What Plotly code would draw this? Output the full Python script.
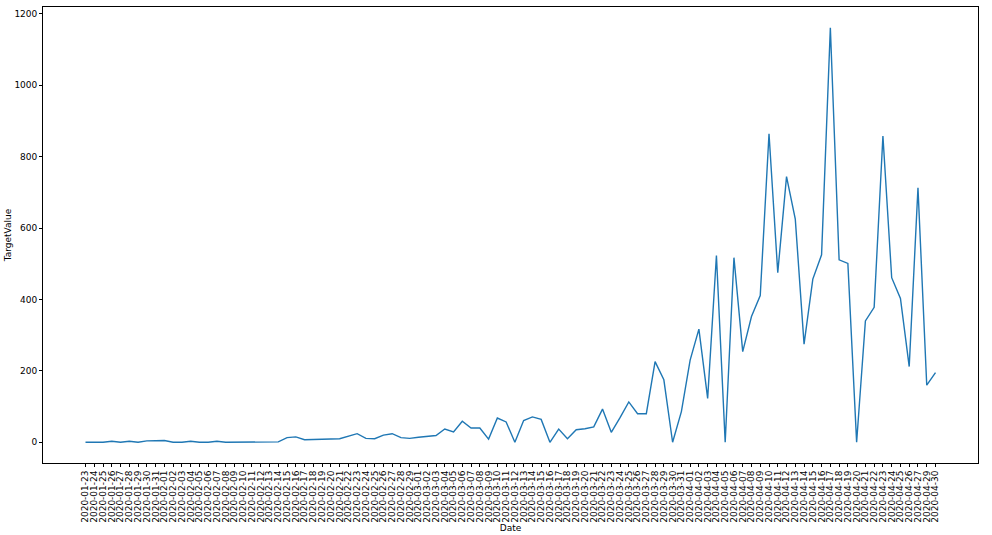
import datetime as dt
import plotly.graph_objects as go

# Dates (categorical, 2020-04-28 absent in the source data)
start = dt.date(2020, 1, 23)
end = dt.date(2020, 4, 30)
dates = []
d = start
while d <= end:
    if d != dt.date(2020, 4, 28):
        dates.append(d.isoformat())
    d += dt.timedelta(days=1)

target_values = [
    0, 0, 0, 3, 0, 3, 0, 4, 4, 5,
    0, 0, 3, 0, 0, 3, 0, 0, 0, 0,
    2, 0, 1, 13, 15, 7, 7, 9, 9, 10,
    17, 24, 11, 10, 20, 24, 13, 11, 14, 17,
    19, 37, 29, 59, 40, 40, 9, 68, 57, 0,
    61, 71, 64, 0, 37, 10, 35, 38, 43, 93,
    28, 69, 113, 80, 80, 226, 175, 0, 86, 230,
    317, 123, 523, 0, 517, 254, 352, 411, 864, 475,
    744, 625, 275, 457, 525, 1161, 511, 501, 0, 340,
    378, 858, 461, 403, 212, 713, 160, 195,
]

y_ticks = [0, 200, 400, 600, 800, 1000, 1200]

n = len(dates)
ymin, ymax = min(target_values), max(target_values)
pad_y = (ymax - ymin) * 0.05
pad_x = (n - 1) * 0.05

FS = 9
tfont = dict(family="DejaVu Sans", size=FS, color="#000000")

fig = go.Figure(
    go.Scatter(
        x=dates,
        y=target_values,
        mode="lines",
        line=dict(color="#1f77b4", width=1.4),
        showlegend=False,
    )
)

fig.update_layout(
    width=992,
    height=535,
    margin=dict(l=43, r=14, t=7, b=72),
    paper_bgcolor="white",
    plot_bgcolor="white",
    font=tfont,
)

common = dict(
    ticks="outside",
    ticklen=3,
    tickwidth=0.8,
    tickcolor="#000000",
    showline=True,
    linecolor="#000000",
    linewidth=0.8,
    mirror=True,
    showgrid=False,
    zeroline=False,
    automargin=False,
    tickfont=tfont,
)

fig.update_xaxes(
    type="category",
    categoryorder="array",
    categoryarray=dates,
    range=[-pad_x, n - 1 + pad_x],
    tickmode="array",
    tickvals=dates,
    ticktext=dates,
    tickangle=-90,
    title=dict(text="Date", standoff=0, font=tfont),
    **common,
)

fig.update_yaxes(
    range=[ymin - pad_y, ymax + pad_y],
    tickmode="array",
    tickvals=y_ticks,
    title=dict(text="TargetValue", standoff=1, font=tfont),
    **common,
)

fig.write_html(
    "out.html",
    config={"displayModeBar": False},
    post_script="document.body.style.margin='0';",
)
